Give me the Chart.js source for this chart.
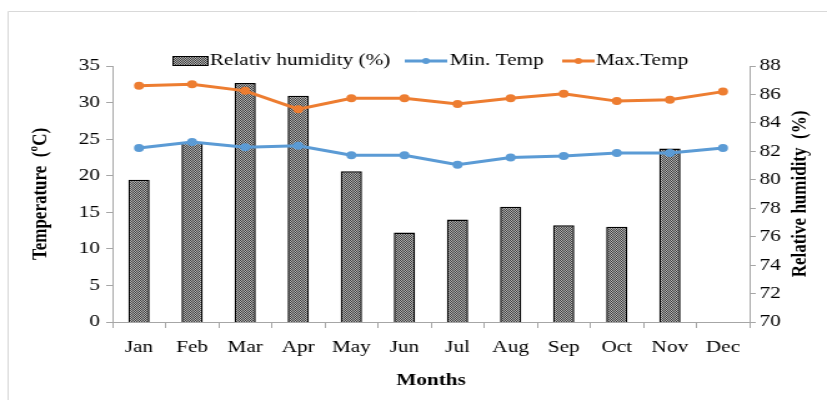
<!DOCTYPE html>
<html>
<head>
<meta charset="utf-8">
<script src="https://cdn.jsdelivr.net/npm/chart.js@4"></script>
<style>
  body { margin: 0; background: #fff; overflow: hidden; }
  /* the source figure is horizontally stretched, so draw narrow and stretch */
  #wrap { position: relative; width: 662px; height: 400px; transform: scaleX(1.2492); transform-origin: 0 0; }
</style>
</head>
<body>
<div id="wrap"><canvas id="climateChart" width="662" height="400"></canvas></div>
<script>
// Data
const months = ["Jan", "Feb", "Mar", "Apr", "May", "Jun", "Jul", "Aug", "Sep", "Oct", "Nov", "Dec"];
const humidity = [80.0, 82.6, 86.8, 85.9, 80.6, 76.3, 77.2, 78.1, 76.8, 76.7, 82.2, null];
const minTemp = [23.8, 24.6, 23.9, 24.1, 22.8, 22.8, 21.5, 22.5, 22.7, 23.1, 23.1, 23.8];
const maxTemp = [32.3, 32.5, 31.6, 29.1, 30.6, 30.6, 29.8, 30.6, 31.2, 30.2, 30.4, 31.5];

const FONT = "'Liberation Serif', 'Times New Roman', serif";
const BLUE = "#5B9BD5";
const ORANGE = "#ED7D31";
const AXIS = "#a6a6a6";

// checkered fill for the humidity bars
function makePattern() {
  const c = document.createElement("canvas");
  c.width = 2; c.height = 2;
  const g = c.getContext("2d");
  g.fillStyle = "#b8b8b8";
  g.fillRect(0, 0, 2, 2);
  g.fillStyle = "#3a3a3a";
  g.fillRect(0, 0, 1, 1);
  g.fillRect(1, 1, 1, 1);
  return g.createPattern(c, "repeat");
}
const pattern = makePattern();

// frame, axis titles and legend
const extras = {
  id: "extras",
  beforeDraw(chart) {
    const ctx = chart.ctx;
    ctx.save();
    ctx.strokeStyle = "#d9d9d9";
    ctx.lineWidth = 1;
    ctx.beginPath();
    ctx.moveTo(6.5, 400);
    ctx.lineTo(6.5, 11.5);
    ctx.lineTo(662, 11.5);
    ctx.stroke();
    ctx.restore();
  },
  afterDraw(chart) {
    const ctx = chart.ctx;
    const area = chart.chartArea;
    ctx.save();
    ctx.fillStyle = "#000";
    ctx.font = "bold 17px " + FONT;
    ctx.textAlign = "center";
    ctx.textBaseline = "middle";
    // x title
    ctx.fillText("Months", (area.left + area.right) / 2, 381);
    // left title
    ctx.save();
    ctx.translate(33, (area.top + area.bottom) / 2);
    ctx.rotate(-Math.PI / 2);
    ctx.fillText("Temperature  (\u00BAC)", 0, 0);
    ctx.restore();
    // right title
    ctx.save();
    ctx.translate(641, (area.top + area.bottom) / 2);
    ctx.rotate(-Math.PI / 2);
    ctx.fillText("Relative humidity  (%)", 0, 0);
    ctx.restore();

    // legend (x positions in unstretched units)
    ctx.font = "17px " + FONT;
    ctx.textAlign = "left";
    const y = 61;
    ctx.fillStyle = pattern;
    ctx.fillRect(138, y - 5, 29, 10);
    ctx.strokeStyle = "#000";
    ctx.lineWidth = 1;
    ctx.strokeRect(138.5, y - 4.5, 28, 9);
    ctx.fillStyle = "#000";
    ctx.fillText("Relativ humidity (%)", 168, y);
    const items = [
      { col: BLUE, txt: "Min. Temp", lx: 324, lw: 34, tx: 360 },
      { col: ORANGE, txt: "Max.Temp", lx: 450, lw: 26, tx: 477 }
    ];
    items.forEach(it => {
      ctx.strokeStyle = it.col;
      ctx.lineWidth = 3;
      ctx.beginPath();
      ctx.moveTo(it.lx, y);
      ctx.lineTo(it.lx + it.lw, y);
      ctx.stroke();
      ctx.fillStyle = it.col;
      ctx.beginPath();
      ctx.arc(it.lx + it.lw / 2, y, 3, 0, Math.PI * 2);
      ctx.fill();
      ctx.fillStyle = "#000";
      ctx.fillText(it.txt, it.tx, y);
    });
    ctx.restore();
  }
};

const ctx = document.getElementById("climateChart").getContext("2d");
const chart = new Chart(ctx, {
  data: {
    labels: months,
    datasets: [
      {
        type: "line",
        label: "Min. Temp",
        data: minTemp,
        yAxisID: "y",
        borderColor: BLUE,
        backgroundColor: BLUE,
        borderWidth: 3,
        pointRadius: 4,
        pointBorderWidth: 0,
        order: 0
      },
      {
        type: "line",
        label: "Max.Temp",
        data: maxTemp,
        yAxisID: "y",
        borderColor: ORANGE,
        backgroundColor: ORANGE,
        borderWidth: 3,
        pointRadius: 4,
        pointBorderWidth: 0,
        order: 0
      },
      {
        type: "bar",
        label: "Relativ humidity (%)",
        data: humidity,
        yAxisID: "y1",
        backgroundColor: pattern,
        borderColor: "#000",
        borderWidth: 1.5,
        barPercentage: 0.4,
        categoryPercentage: 1,
        order: 1
      }
    ]
  },
  options: {
    responsive: false,
    animation: false,
    layout: { padding: { top: 66, left: 0, right: 0, bottom: 0 } },
    plugins: {
      legend: { display: false },
      tooltip: { enabled: false }
    },
    scales: {
      x: {
        offset: true,
        grid: { offset: true, drawOnChartArea: false, color: AXIS, tickLength: 6 },
        border: { color: AXIS },
        ticks: { color: "#000", font: { family: FONT, size: 17 }, padding: 9, maxRotation: 0 },
        afterFit(scale) { scale.height = 78; }
      },
      y: {
        position: "left",
        min: 0,
        max: 35,
        grid: { drawOnChartArea: false, color: AXIS, tickLength: 5 },
        border: { color: AXIS },
        ticks: { stepSize: 5, color: "#000", font: { family: FONT, size: 17 }, padding: 5 },
        afterFit(scale) { scale.width = 90; }
      },
      y1: {
        position: "right",
        min: 70,
        max: 88,
        grid: { drawOnChartArea: false, color: AXIS, tickLength: 5 },
        border: { color: AXIS },
        ticks: { stepSize: 2, color: "#000", font: { family: FONT, size: 17 }, padding: 3 },
        afterFit(scale) { scale.width = 62; }
      }
    }
  },
  plugins: [extras]
});
</script>
</body>
</html>
